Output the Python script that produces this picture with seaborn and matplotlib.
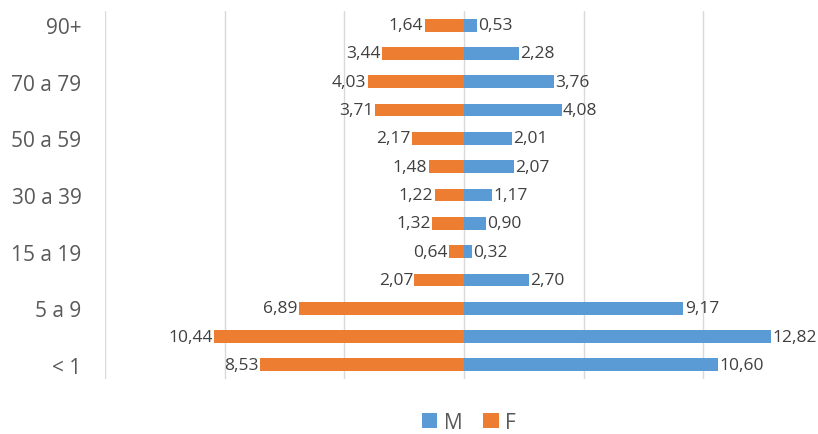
import pandas as pd
import numpy as np
import seaborn as sns
import matplotlib.pyplot as plt


# age groups, top of the chart first
ages = ['90+', '80 a 89', '70 a 79', '60 a 69', '50 a 59', '40 a 49', '30 a 39',
        '20 a 29', '15 a 19', '10 a 14', '5 a 9', '1 a 4', '< 1']
male = [0.53, 2.28, 3.76, 4.08, 2.01, 2.07, 1.17, 0.90, 0.32, 2.70, 9.17, 12.82, 10.60]
female = [1.64, 3.44, 4.03, 3.71, 2.17, 1.48, 1.22, 1.32, 0.64, 2.07, 6.89, 10.44, 8.53]

sns.set_style('white')
plt.rcParams['font.family'] = ['Open Sans', 'DejaVu Sans']

df = pd.concat([
    pd.DataFrame({'age': ages, 'value': male, 'sex': 'M'}),
    pd.DataFrame({'age': ages, 'value': [-v for v in female], 'sex': 'F'}),
])

fig = plt.figure(figsize=(8.18, 4.35), dpi=100)
ax = fig.add_axes([105 / 818, 55 / 435, 718 / 818, 368 / 435])

sns.barplot(
    data=df, x='value', y='age', hue='sex', order=ages,
    palette={'M': '#5B9BD5', 'F': '#ED7D31'}, saturation=1,
    dodge=False, orient='h', width=0.45, linewidth=0, ax=ax, legend=True
)

for cont, vals in zip(ax.containers, [male, female]):
    ax.bar_label(cont, labels=[f'{v:.2f}'.replace('.', ',') for v in vals],
                 padding=1, fontsize=12.5, color='#404040')

ax.set_xlim(-15, 15)
ax.set_ylim(12.5, -0.5)
ax.set_xticks(np.arange(-15, 16, 5))
ax.set_xticklabels([])
ax.xaxis.grid(True, color='#d9d9d9', linewidth=1)
ax.set_axisbelow(True)
ax.tick_params(axis='both', length=0)
ax.set_yticks(range(0, 13, 2))
ax.set_yticklabels(ages[::2], fontsize=15, color='#595959')
ax.tick_params(axis='y', pad=17)
ax.set(xlabel='', ylabel='')
for s in ax.spines.values():
    s.set_visible(False)

handles, labels = ax.get_legend_handles_labels()
ax.get_legend().remove()
fig.legend(handles, labels, loc='lower center', bbox_to_anchor=(0.573, -0.04),
           ncol=2, frameon=False, fontsize=15, handlelength=0.75, handleheight=0.75,
           handletextpad=0.3, columnspacing=1.0, labelcolor='#595959')

fig.savefig('out.png', dpi=100)
